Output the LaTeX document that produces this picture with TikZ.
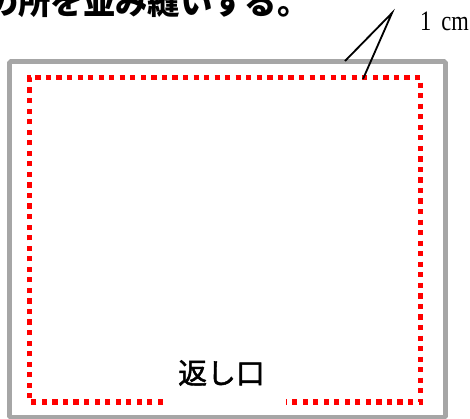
\documentclass[tikz,border=0pt]{standalone}
\usepackage{fontspec}
\newfontfamily\jpfont{Noto Sans CJK JP}
\newfontfamily\jpmidfont[FakeBold=1.6]{Noto Sans CJK JP}
\newfontfamily\cmfont{Liberation Serif}
\usetikzlibrary{calc}
\definecolor{clothgray}{rgb}{0.65,0.65,0.65}
\definecolor{stitchred}{rgb}{1,0,0}

\begin{document}
\begin{tikzpicture}[x=0.05cm,y=-0.05cm,
  cloth/.style={clothgray, line width=6.8pt, rounded corners=2pt},
  stitch/.style={stitchred, line width=7.4pt, dash pattern=on 7.4pt off 7.6pt},
  leader/.style={black, line width=2.6pt}]
\useasboundingbox (0,0) rectangle (470,419);
\clip (0,0) rectangle (470,419);
\fill[white] (0,0) rectangle (470,419);
% heading, cut off at the top
\node (title) [anchor=base west, inner sep=0pt, font=\jpfont\bfseries\fontsize{46}{46}\selectfont] at (-14,14.5) {の所を並み縫いする。};
% cloth and stitch line
\draw[cloth] (9.5,61.5) rectangle (445.5,417.5);
\draw[stitch] (163,402) -- (29.5,402) -- (29.5,77.5) -- (420.5,77.5) -- (420.5,402) -- (286,402);
\node (gap) at (221.5,373) [font=\jpmidfont\fontsize{41}{41}\selectfont] {返し口};
% seam allowance
\node (size) [anchor=base west, inner sep=0pt, font=\cmfont\fontsize{40}{40}\selectfont] at (420,30) {\scalebox{0.8}[1]{1\hspace{0.45em}cm}};
\coordinate (tip) at (392,13);
\coordinate (edge) at (345,61);
\coordinate (seam) at (363,79);
\draw[leader] (edge) -- (tip) -- (seam);
\end{tikzpicture}
\end{document}
